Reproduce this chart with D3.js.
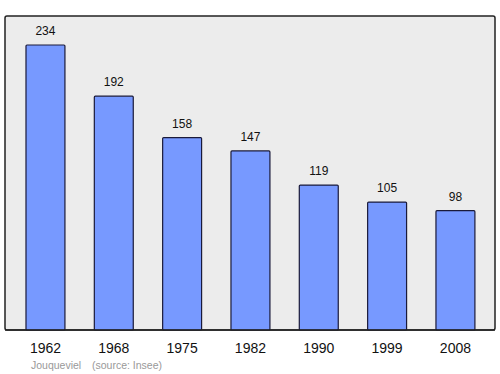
<!DOCTYPE html>
<html>
<head>
<meta charset="utf-8">
<script src="https://cdn.jsdelivr.net/npm/d3@7"></script>
<style>
body { margin: 0; background: #fff; }
text { font-family: "Liberation Sans", Arial, sans-serif; }
</style>
</head>
<body>
<svg id="chart" width="500" height="374"></svg>
<script>
var years = ["1962", "1968", "1975", "1982", "1990", "1999", "2008"];
var population = [234, 192, 158, 147, 119, 105, 98];
var commune = "Jouqueviel";
var source = "(source: Insee)";

var svg = d3.select("#chart");
var frame = { left: 5, top: 16, right: 495, bottom: 330 };

var x = d3.scaleBand()
	.domain(years)
	.range([11.3, 489.6])
	.paddingInner(0.43)
	.paddingOuter(0.215);

var y = d3.scaleLinear()
	.domain([0, 257.8])
	.range([frame.bottom, frame.top]);

svg.append("rect")
	.attr("x", frame.left)
	.attr("y", frame.top)
	.attr("width", frame.right - frame.left)
	.attr("height", frame.bottom - frame.top)
	.attr("rx", 2)
	.attr("fill", "#ececec")
	.attr("stroke", "#222")
	.attr("stroke-width", 1.5);

var bars = svg.selectAll("g.bar")
	.data(years)
	.enter().append("g")
	.attr("class", "bar");

bars.append("rect")
	.attr("x", function(d) { return x(d); })
	.attr("y", function(d, i) { return y(population[i]); })
	.attr("width", x.bandwidth())
	.attr("height", function(d, i) { return y(0) - y(population[i]); })
	.attr("rx", 1)
	.attr("fill", "#7799ff")
	.attr("stroke", "#1a1a3a")
	.attr("stroke-width", 1.2);

bars.append("text")
	.attr("x", function(d) { return x(d) + x.bandwidth() / 2; })
	.attr("y", function(d, i) { return y(population[i]) - 10; })
	.attr("text-anchor", "middle")
	.attr("font-size", 12)
	.attr("fill", "#111")
	.text(function(d, i) { return population[i]; });

// redraw frame bottom over bars
svg.append("line")
	.attr("x1", frame.left)
	.attr("x2", frame.right)
	.attr("y1", frame.bottom)
	.attr("y2", frame.bottom)
	.attr("stroke", "#222")
	.attr("stroke-width", 1.5);

svg.selectAll("text.year")
	.data(years)
	.enter().append("text")
	.attr("class", "year")
	.attr("x", function(d) { return x(d) + x.bandwidth() / 2; })
	.attr("y", 353)
	.attr("text-anchor", "middle")
	.attr("font-size", 14)
	.attr("fill", "#111")
	.text(function(d) { return d; });

svg.append("text")
	.attr("x", 31)
	.attr("y", 369)
	.attr("font-size", 10.5)
	.attr("fill", "#999")
	.text(commune);

svg.append("text")
	.attr("x", 92)
	.attr("y", 369)
	.attr("font-size", 10.5)
	.attr("fill", "#999")
	.text(source);
</script>
</body>
</html>
